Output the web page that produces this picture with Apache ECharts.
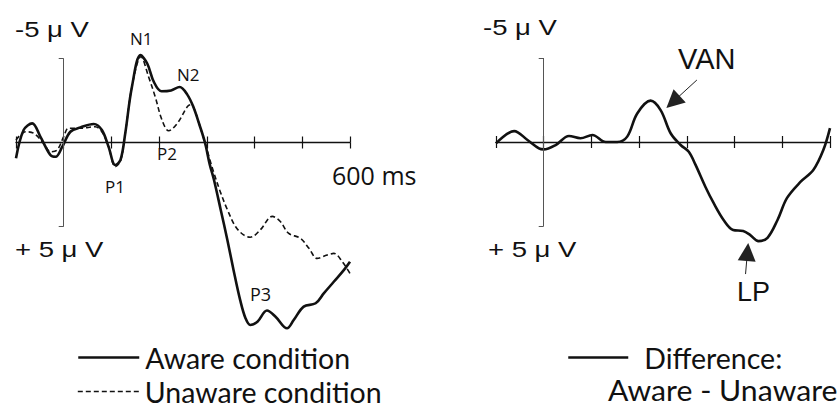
<!DOCTYPE html>
<html><head><meta charset="utf-8">
<script src="https://cdn.jsdelivr.net/npm/echarts@6/dist/echarts.min.js"></script>
<style>html,body{margin:0;padding:0;background:#fff}#c{width:840px;height:410px}</style>
</head><body><div id="c"></div>
<script>
// ---- data (time in ms, amplitude in µV; negative plotted upward) ----
const awareTime = [-100,-84,-66,-49,-28,-17,-3,14,35,63,80,94,108,119,129,143,161,175,189,205,225,243,259,272,284,296,306,315,329,343,356,370,381,391,406,426,444,468,482,503,528,545,566,587,600];
const awareValue = [0.94,-0.74,-1.14,-0.35,0.74,0.85,0.25,-0.64,-0.9,-1.1,-0.74,0.25,1.34,1.04,-0.55,-3.32,-5.2,-4.7,-3.6,-3.05,-3.1,-3.3,-2.85,-2.1,-1.1,0.0,1.3,2.23,4.0,5.8,7.6,9.4,10.46,10.86,10.67,10.0,10.37,11.06,10.57,9.77,9.57,8.98,8.29,7.6,7.1];
const unawareTime = [-100,-80,-63,-42,-28,-14,0,10,35,66,80,94,108,119,129,143,162,178,192,206,220,238,259,266,272,284,296,306,315,329,343,360,377,391,412,437,454,471,496,514,531,552,566,584,600];
const unawareValue = [-0.15,-0.64,-0.55,0.05,0.55,0.45,-0.35,-0.85,-0.85,-0.94,-0.64,0.25,1.44,1.1,-0.55,-3.32,-5.1,-3.9,-2.7,-1.34,-0.7,-1.14,-2.13,-2.25,-2.1,-1.1,0.0,1.0,1.83,3.0,4.0,5.0,5.5,5.64,5.2,4.4,4.7,5.4,5.7,6.3,6.9,6.7,6.6,7.1,7.8];
const diffTime = [-100,-62,-34,-10,0,25,53,77,102,130,154,175,196,224,245,266,287,304,318,339,356,377,397,418,433,450,469,490,510,538,565,586,600];
const diffValue = [0.08,-0.65,-0.12,0.38,0.44,0.18,-0.36,-0.22,-0.42,0.0,0.0,-0.32,-1.7,-2.46,-1.9,-0.52,0.18,0.58,1.35,2.68,3.63,4.64,5.24,5.3,5.54,5.9,5.7,4.64,3.33,2.38,1.67,0.48,-0.83];
const timeMin = -100, timeMax = 600, timeStep = 100;
const scaleTicks = [-5, 5];
const vanArrow = [[321, -3.69], [271, -2.39]];
const lpArrow = [[423, 7.86], [427, 6.55]];

const zip = (a, b) => a.map((t, i) => [t, b[i]]);
const INK = '#111';

// two x axes per grid: one with ticks below the line, one with ticks above (ticks cross the line)
function xAxes(grid, dupY) {
  const base = {type:'value', gridIndex:grid, min:timeMin, max:timeMax, interval:timeStep, position:'bottom',
    axisLabel:{show:false}, splitLine:{show:false}};
  return [
    Object.assign({}, base, {axisLine:{show:true, onZero:true, lineStyle:{color:INK, width:1.3}},
      axisTick:{show:true, inside:false, length:6, lineStyle:{color:INK, width:1.2}}}),
    Object.assign({}, base, {axisLine:{show:false, onZero:true, onZeroAxisIndex:dupY},
      axisTick:{show:true, inside:true, length:6, lineStyle:{color:INK, width:1.2}}})
  ];
}
function yAxis(grid, mn, mx) {
  return {type:'value', gridIndex:grid, inverse:true, min:mn, max:mx, position:'left',
    axisLine:{show:false, onZero:true}, axisLabel:{show:false}, splitLine:{show:false},
    axisTick:{show:true, customValues:scaleTicks, length:5, lineStyle:{color:'#555', width:1}}};
}
function yDup(grid, mn, mx) {
  return {type:'value', gridIndex:grid, inverse:true, min:mn, max:mx, position:'right', show:false,
    axisLine:{show:false, onZero:false}, axisLabel:{show:false}, axisTick:{show:false}, splitLine:{show:false}};
}
const axisSeg = [{coord:[0, scaleTicks[0]]}, {coord:[0, scaleTicks[1]]}];

const chart = echarts.init(document.getElementById('c'), null, {renderer:'svg'});
const T = (x, y, text, font, extra) => Object.assign({type:'text', x, y, silent:true,
  style:{text, font, fill:INK, verticalAlign:'middle', align:'left'}}, extra || {});
const AX = '22px "Liberation Sans"', LB = '17px "Open Sans"';
const LEGFONT = 'Lato', LEGSIZE = 28.5;
const legText = (pad) => ({fontFamily:LEGFONT, fontSize:LEGSIZE, lineHeight:28, color:INK, padding:[0,0,0,pad]});
const noSym = {color:'rgba(0,0,0,0)', borderWidth:0};

chart.setOption({
  animation:false,
  grid:[
    {left:16, width:334, top:41.7, height:302.4},
    {left:496, width:334, top:41.2, height:235.2}
  ],
  xAxis:[...xAxes(0, 2), ...xAxes(1, 3)],
  yAxis:[yAxis(0, -6, 12), yAxis(1, -6, 8), yDup(0, -6, 12), yDup(1, -6, 8)],
  legend:[
    {left:72, top:338, itemWidth:61, itemHeight:14, selectedMode:false,
     data:[{name:'Aware condition', lineStyle:{width:2.5}}], itemStyle:noSym, textStyle:legText(1)},
    {left:72, top:372, itemWidth:61, itemHeight:14, selectedMode:false,
     data:[{name:'Unaware condition', lineStyle:{width:1.6}}], itemStyle:noSym, textStyle:legText(1)},
    {left:562, top:338, itemWidth:60, itemHeight:14, selectedMode:false,
     data:[{name:'Difference', lineStyle:{width:2.5}}], formatter:'{name}:', itemStyle:noSym, textStyle:legText(11)}
  ],
  series:[
    {name:'Aware condition', type:'line', xAxisIndex:0, yAxisIndex:0, data:zip(awareTime, awareValue),
     smooth:0.35, symbol:'none', clip:false, color:INK, lineStyle:{color:INK, width:2.6}, z:3,
     markLine:{silent:true, symbol:['none','none'], label:{show:false}, lineStyle:{color:'#555', width:1, type:'solid'},
       data:[axisSeg]}},
    {name:'Unaware condition', type:'line', xAxisIndex:0, yAxisIndex:0, data:zip(unawareTime, unawareValue),
     smooth:0.35, symbol:'none', clip:false, color:INK, lineStyle:{color:INK, width:1.6, type:[5,3]}, z:2},
    {name:'Difference', type:'line', xAxisIndex:2, yAxisIndex:1, data:zip(diffTime, diffValue),
     smooth:0.35, symbol:'none', clip:false, color:INK, lineStyle:{color:INK, width:2.6}, z:3,
     markLine:{silent:true, symbol:['none','none'], label:{show:false}, lineStyle:{color:'#555', width:1, type:'solid'},
       data:[
         axisSeg,
         [{coord:vanArrow[0], symbol:'none'}, {coord:vanArrow[1], symbol:'triangle', symbolSize:18, lineStyle:{color:'#222'}}],
         [{coord:lpArrow[0], symbol:'none'}, {coord:lpArrow[1], symbol:'triangle', symbolSize:18, lineStyle:{color:'#222'}}]
       ]}}
  ],
  graphic:[
    T(15, 29, '-5 μ V', AX, {scaleX:1.25}),
    T(15, 249, '+ 5 μ V', AX, {scaleX:1.25}),
    T(483, 27, '-5 μ V', AX, {scaleX:1.25}),
    T(488, 249, '+ 5 μ V', AX, {scaleX:1.25}),
    T(130, 38, 'N1', LB),
    T(177, 74, 'N2', LB),
    T(105, 186, 'P1', LB),
    T(157, 153, 'P2', LB),
    T(250, 294, 'P3', '18px "Open Sans"'),
    T(332, 175, '600 ms', '25px "Open Sans"'),
    T(678, 59, 'VAN', '29px "Liberation Sans"'),
    T(737, 292, 'LP', '27px "Liberation Sans"'),
    T(608, 390, 'Aware - Unaware', LEGSIZE + 'px ' + LEGFONT, {scaleX:1.06})
  ]
});
</script></body></html>
